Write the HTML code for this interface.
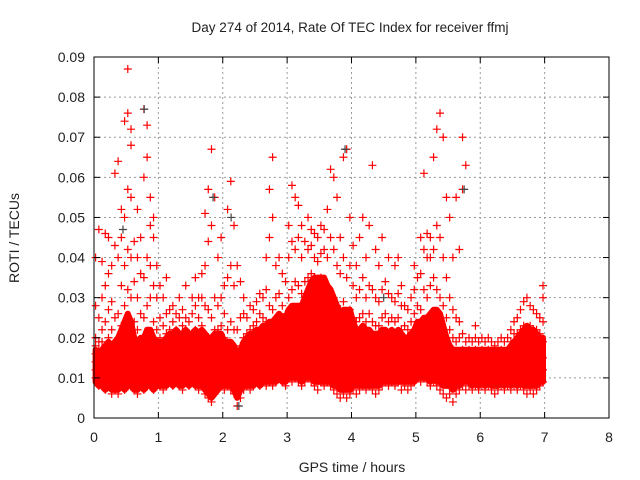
<!DOCTYPE html>
<html><head><meta charset="utf-8"><style>
body{margin:0;background:#fff}
svg{display:block;font-family:"Liberation Sans",sans-serif}
</style></head><body>
<svg id="chart" width="640" height="480" viewBox="0 0 640 480">
<rect width="640" height="480" fill="#fff"/>
<text x="350" y="32" font-size="13.5" text-anchor="middle" fill="#222">Day 274 of 2014, Rate Of TEC Index for receiver ffmj</text>
<g id="grid"></g>
<g id="marks"></g>
<rect x="94" y="57" width="515" height="361" fill="none" stroke="#000" stroke-width="1"/>
<g id="axes"></g>
<text transform="translate(19,238) rotate(-90)" font-size="14" text-anchor="middle" fill="#222">ROTI / TECUs</text>
<text x="352" y="472" font-size="14" text-anchor="middle" fill="#222">GPS time / hours</text>
</svg>
<script>
const xTicks=[0,1,2,3,4,5,6,7,8];
const yTicks=[0,0.01,0.02,0.03,0.04,0.05,0.06,0.07,0.08,0.09];
const yTickLabels=["0","0.01","0.02","0.03","0.04","0.05","0.06","0.07","0.08","0.09"];
const times=[0.025,0.075,0.125,0.175,0.225,0.275,0.325,0.375,0.425,0.475,0.525,0.575,0.625,0.675,0.725,0.775,0.825,0.875,0.925,0.975,
1.025,1.075,1.125,1.175,1.225,1.275,1.325,1.375,1.425,1.475,1.525,1.575,1.625,1.675,1.725,1.775,1.825,1.875,1.925,1.975,
2.025,2.075,2.125,2.175,2.225,2.275,2.325,2.375,2.425,2.475,2.525,2.575,2.625,2.675,2.725,2.775,2.825,2.875,2.925,2.975,
3.025,3.075,3.125,3.175,3.225,3.275,3.325,3.375,3.425,3.475,3.525,3.575,3.625,3.675,3.725,3.775,3.825,3.875,3.925,3.975,
4.025,4.075,4.125,4.175,4.225,4.275,4.325,4.375,4.425,4.475,4.525,4.575,4.625,4.675,4.725,4.775,4.825,4.875,4.925,4.975,
5.025,5.075,5.125,5.175,5.225,5.275,5.325,5.375,5.425,5.475,5.525,5.575,5.625,5.675,5.725,5.775,5.825,5.875,5.925,5.975,
6.025,6.075,6.125,6.175,6.225,6.275,6.325,6.375,6.425,6.475,6.525,6.575,6.625,6.675,6.725,6.775,6.825,6.875,6.925,6.975];
// dense core band of ROTI (milli-TECU/min), per time column
const coreLowMilli=[9,8,8,7,8,7,7,7,8,7, 8,8,7,7,8,7,8,8,7,8, 8,8,8,9,8,9,8,8,9,8, 9,8,8,8,7,6,5,6,7,8,
8,8,8,7,5,7,8,8,8,8, 9,8,9,9,9,9,9,10,9,9, 10,10,10,10,9,10,10,10,9,9, 9,9,9,9,8,8,7,7,7,7,
8,8,8,8,8,8,8,8,8,9, 9,9,9,9,9,9,9,9,9,9, 10,10,10,10,9,10,9,9,8,8, 8,7,8,8,9,9,9,8,9,8,
9,8,9,8,8,8,9,8,9,8, 9,8,9,8,8,8,8,8,9,9];
const coreHighMilli=[17,16,17,18,19,18,19,20,22,24, 26,24,20,19,20,20,22,22,20,19, 19,19,20,21,21,22,21,21,22,21, 21,22,21,22,21,20,20,21,21,21,
19,19,19,18,16,17,19,20,21,21, 22,22,23,23,24,24,25,26,25,25, 27,28,28,28,28,30,32,34,35,35, 35,35,33,32,30,28,26,27,27,27,
24,22,22,23,22,22,21,21,21,22, 22,21,22,21,22,21,20,20,21,22, 24,24,25,25,26,27,27,26,23,20, 18,17,17,17,17,17,17,17,17,17,
17,17,17,17,17,17,17,17,17,18, 19,20,21,22,23,22,22,21,20,20];
// scattered ROTI values (milli-TECU/min) per time column
const rotiMilli=[
[10,12,14,16,18,20,28,40],[8,11,13,15,17,19,25,47],[9,12,14,16,19,22,30,39],[7,10,13,15,18,24,33,46],[8,11,13,16,20,27,36,45],
[6,9,12,14,17,22,29,38],[7,10,12,15,18,25,43,61],[6,9,12,14,19,26,40,64],[8,11,13,17,23,33,45,52],[7,10,14,18,28,38,50,74],
[9,12,15,22,32,42,57,87,76],[8,11,14,20,30,40,55,72,68],[7,10,13,16,24,34,44],[6,9,12,15,22,30,40,52],[8,11,14,18,26,36,45],
[7,10,13,17,25,35,60,77],[8,11,14,19,28,40,65,73],[9,12,15,20,30,38,48,55],[7,10,13,17,24,33,45,50],[8,11,14,18,22,30,38],
[8,11,14,17,20,25,33],[7,10,13,16,19,23,30],[8,11,14,17,21,26,35],[9,12,15,18,22,27],[8,11,14,17,20,24,28],
[9,12,15,18,22,26],[8,11,14,18,21,25,30],[7,10,13,16,20,23,27],[9,12,15,19,22,25,33],[8,11,14,17,21,24],
[9,12,15,18,21,26,30],[8,11,14,17,22,28,35],[7,10,13,16,20,25,30],[8,11,14,18,23,30,36],[6,9,12,16,21,28,38,51],
[5,8,11,15,20,27,44,57],[4,7,10,14,19,25,48,67],[6,9,13,17,22,30,55],[7,10,13,17,22,28,40],[8,11,14,18,23,30,45],
[7,10,13,16,20,26,33],[8,11,14,17,22,35,52],[7,10,13,18,24,38,59],[6,9,12,16,22,33,48],[3,6,9,12,16,22,38],
[5,8,11,14,18,25,34],[7,10,13,16,20,26,30],[8,11,14,17,21,25],[7,10,13,17,22,28],[8,11,14,18,23,27],
[9,12,15,19,24,29],[8,11,14,18,22,26,31],[9,12,16,20,25,30],[8,11,15,19,24,32,40],[9,12,16,21,28,45,57],
[8,11,15,20,27,50,65],[9,12,16,22,30,38],[10,13,17,23,31,40],[9,12,16,21,28,36],[8,11,15,20,26,34],
[10,13,17,22,30,40,48],[9,12,16,22,32,44,58],[10,14,19,25,34,42,55],[9,13,18,24,33,45,53],[8,12,17,23,31,40,48],
[9,13,18,25,34,44],[10,14,20,27,35,42,50],[9,13,19,28,36,43,47],[8,12,18,26,35,40,46],[7,11,17,25,33,39,45],
[9,13,19,27,35,41,48],[8,12,18,26,34,42,47],[9,13,18,24,32,40,52],[8,12,17,23,31,45,62],[7,11,16,22,30,42,60],
[6,10,15,21,28,38,55],[5,9,14,20,27,36,45],[6,10,15,21,29,40,65],[5,8,13,19,26,35,67],[6,9,14,20,27,38,50],
[7,10,14,19,25,33,43],[6,9,13,18,24,30,38],[7,10,14,19,25,32,45],[8,11,15,20,26,35,50],[7,10,14,19,24,30,40],
[8,11,15,20,26,33,48],[7,10,14,18,24,32,63],[6,9,13,17,23,30,42],[7,10,14,18,23,29,38],[8,11,15,19,25,32,45],
[9,12,16,20,26,34],[8,11,15,19,24,31,40],[9,12,16,20,25,30],[8,11,15,19,24,29,38],[9,12,16,20,25,31,40],
[7,10,14,18,22,28,33],[8,11,15,19,23,28],[7,10,14,18,22,27],[8,11,15,19,24,30],[9,12,16,20,26,32,38],
[10,13,17,22,28,35],[9,12,16,21,27,36,45],[10,13,18,24,32,42,61],[9,12,17,23,30,40,46],[8,12,17,24,33,40,45],
[9,13,18,25,35,42,65],[8,12,17,24,32,48,72],[7,11,16,22,30,45,76],[6,10,14,20,28,40,70],[5,9,13,18,25,35,55],
[6,9,12,16,22,30,50],[4,8,11,15,20,27,40],[6,9,12,15,19,25,55],[7,10,13,16,20,24,42],[8,11,14,17,21,57,70],
[7,10,13,16,19,63],[8,11,14,17,20],[7,10,13,16,19],[8,11,14,17,20,23],[7,10,13,16,19],
[8,11,14,17,20],[7,10,13,16,19],[8,11,14,17,20],[7,10,13,16,19],[6,9,12,15,18],
[7,10,13,16,19],[8,11,14,17,20],[7,10,13,16,19],[8,11,14,17,20],[7,10,13,16,19,22],
[8,11,14,17,21,24],[7,10,13,17,21,25],[8,11,14,18,22,27],[7,10,14,18,23,29],[6,9,13,17,22,30],
[7,10,14,18,23,28],[6,9,13,17,22,27],[7,10,14,18,22,26],[8,11,14,17,21,25],[9,12,15,19,24,30,33]];
const grayTimes=[0.45,0.78,2.13,2.25,3.9,5.75,1.85,4.5];
const grayValues=[0.047,0.077,0.05,0.003,0.067,0.057,0.055,0.03];

const NS="http://www.w3.org/2000/svg";
const L=94,R=609,T=57,B=418;
function xs(v){return L+(v-0)/(8-0)*(R-L);}
function ys(v){return B-(v-0)/(0.09-0)*(B-T);}
const gridG=document.getElementById('grid'),axesG=document.getElementById('axes'),marksG=document.getElementById('marks');
function mk(tag,attrs,parent){const e=document.createElementNS(NS,tag);for(const k in attrs)e.setAttribute(k,attrs[k]);parent.appendChild(e);return e;}
xTicks.forEach(t=>{
  const x=xs(t);
  if(t>0&&t<8){const g=mk('line',{x1:x,x2:x,y1:T,y2:B,stroke:'#999','stroke-dasharray':'2,3'},gridG);
  
  }
  mk('line',{x1:x,x2:x,y1:B,y2:B-6,stroke:'#000'},axesG);
  mk('line',{x1:x,x2:x,y1:T,y2:T+6,stroke:'#000'},axesG);
  const lb=mk('text',{x:x,y:B+24,'font-size':'14','text-anchor':'middle',fill:'#222'},axesG);
  lb.textContent=t;
  
  
});
yTicks.forEach((t,i)=>{
  const y=ys(t);
  if(i>0&&i<yTicks.length-1){const g=mk('line',{x1:L,x2:R,y1:y,y2:y,stroke:'#999','stroke-dasharray':'2,3'},gridG);
  
  }
  mk('line',{x1:L,x2:L+6,y1:y,y2:y,stroke:'#000'},axesG);
  mk('line',{x1:R,x2:R-6,y1:y,y2:y,stroke:'#000'},axesG);
  const lb=mk('text',{x:L-9,y:y+5,'font-size':'14','text-anchor':'end',fill:'#222'},axesG);
  lb.textContent=yTickLabels[i];
  
  
});
// dense core band
const bandTop=times.map((t,i)=>`${xs(t).toFixed(1)},${ys(coreHighMilli[i]/1000).toFixed(1)}`);
const bandBottom=times.map((t,i)=>`${xs(t).toFixed(1)},${ys(coreLowMilli[i]/1000).toFixed(1)}`).reverse();
const band=mk('polygon',{points:bandTop.concat(bandBottom).join(' '),fill:'#f00',stroke:'#f00','stroke-width':'6','stroke-linejoin':'round'},marksG);


function plus(x,y,col){
  const p=mk('path',{d:`M${x-4},${y}h8M${x},${y-4}v8`,stroke:col,'stroke-width':'1.2',fill:'none'},marksG);
  
  
}
times.forEach((t,i)=>{rotiMilli[i].forEach(v=>plus(xs(t),ys(v/1000),'#f00'));});
grayTimes.forEach((t,i)=>plus(xs(t),ys(grayValues[i]),'#444'));
</script>
</body></html>
